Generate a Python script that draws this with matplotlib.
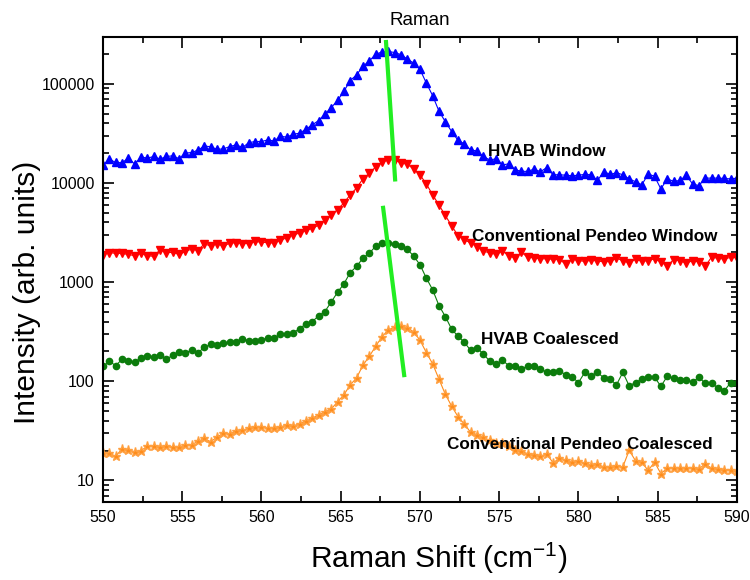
import numpy as np
import matplotlib
matplotlib.use("Agg")
import matplotlib.pyplot as plt
from matplotlib.ticker import MultipleLocator, LogLocator, FixedLocator, FixedFormatter

plt.rcParams['font.family'] = ['Liberation Sans', 'DejaVu Sans']
plt.rcParams['mathtext.fontset'] = 'custom'
plt.rcParams['mathtext.rm'] = 'Liberation Sans'
plt.rcParams['mathtext.it'] = 'Liberation Sans:italic'

# raman shift grid (cm-1)
shift = np.linspace(550, 590, 101)

hvab_window = [
    15200, 17400, 16100, 16000, 17800, 15500, 18300, 17800, 18500, 17400,
    18500, 18800, 17600, 20000, 20300, 21500, 23600, 23200, 21800, 22100,
    23300, 24300, 22800, 25500, 26200, 26200, 27200, 26500, 29600, 29000,
    31000, 31800, 34800, 38600, 42500, 49500, 57500, 68000, 84000, 108000,
    123000, 150000, 170000, 198000, 210000, 212000, 207000, 197000, 178000, 162000,
    140000, 102000, 76000, 53000, 41500, 33000, 27000, 24800, 21600, 21000,
    18500, 17100, 17500, 15200, 15600, 13600, 13100, 13100, 13800, 13000,
    14300, 12100, 12100, 12000, 11800, 12000, 12200, 12100, 10600, 13000,
    12200, 12700, 12100, 11000, 10300, 9600, 12300, 11700, 8700, 11000,
    10400, 10600, 11900, 9800, 9400, 11200, 11200, 11200, 11100, 11000,
    11200]

conv_window = [
    1890, 1990, 1950, 1950, 1900, 1850, 1950, 1850, 1820, 2120,
    1980, 2000, 1900, 2040, 2160, 2080, 2450, 2300, 2450, 2300,
    2480, 2500, 2450, 2450, 2570, 2530, 2500, 2480, 2650, 2800,
    3000, 3120, 3320, 3480, 3750, 4200, 4700, 5400, 6300, 7600,
    8900, 11000, 12500, 14500, 16200, 17100, 17100, 16000, 15400, 13900,
    12100, 9800, 7600, 6000, 4700, 3700, 2950, 2680, 2480, 2280,
    2050, 1980, 1900, 2060, 1850, 1750, 2000, 1780, 1760, 1720,
    1720, 1700, 1690, 1520, 1710, 1650, 1620, 1660, 1640, 1600,
    1620, 1740, 1650, 1560, 1700, 1620, 1650, 1720, 1600, 1450,
    1690, 1640, 1560, 1640, 1600, 1450, 1790, 1740, 1710, 1780,
    1760]

hvab_coal = [
    141, 159, 144, 166, 159, 156, 172, 178, 176, 182,
    168, 182, 196, 195, 205, 195, 220, 235, 230, 245,
    247, 250, 270, 255, 252, 262, 273, 273, 297, 302,
    310, 337, 381, 400, 455, 505, 630, 790, 960, 1250,
    1440, 1750, 1950, 2300, 2460, 2480, 2440, 2320, 2150, 1830,
    1500, 1100, 837, 580, 450, 335, 285, 247, 205, 217,
    188, 160, 148, 163, 144, 141, 132, 144, 144, 132,
    124, 123, 128, 116, 111, 97, 123, 114, 123, 108,
    105, 92, 123, 90, 97, 105, 110, 110, 89, 112,
    108, 102, 104, 98, 110, 95, 97, 85, 80, 97,
    97]

conv_coal = [
    18.9, 18.8, 17.5, 20.8, 20.3, 19.5, 20.0, 22.1, 22.1, 21.8,
    22.1, 21.5, 21.5, 23.0, 23.0, 24.8, 26.5, 24.5, 27.5, 29.8,
    29.5, 31.3, 32.0, 33.5, 34.2, 34.8, 34.0, 34.0, 34.5, 36.5,
    35.5, 37.2, 39.5, 42.6, 45.5, 49.0, 52.5, 62.0, 73.0, 92.0,
    108, 145, 178, 225, 280, 331, 350, 362, 348, 315,
    260, 195, 150, 105, 74, 56, 44, 37, 30.5, 29,
    27.2, 25.3, 23.8, 23.6, 22.5, 20.5, 19.6, 18.6, 18.2, 17.5,
    18.6, 15.0, 16.8, 16.1, 15.3, 15.6, 15.0, 14.2, 14.5, 13.7,
    13.8, 13.9, 13.7, 20.1, 15.8, 15.2, 12.6, 15.3, 11.7, 13.3,
    13.3, 13.3, 13.3, 13.3, 13.0, 14.8, 13.2, 12.9, 12.8, 12.6,
    12.5]

# peak-shift guide lines (x, y)
guide1_x = [567.85, 568.44]
guide1_y = [277000, 10350]
guide2_x = [567.66, 569.02]
guide2_y = [5890, 110]

labels = ["HVAB Window", "Conventional Pendeo Window", "HVAB Coalesced",
          "Conventional Pendeo Coalesced"]
label_x = [578.0, 581.0, 578.2, 580.1]
label_y = [20650, 2870, 262, 23.0]

yticks = [10, 100, 1000, 10000, 100000]
ytick_labels = ["10", "100", "1000", "10000", "100000"]

fig = plt.figure(figsize=(7.5, 5.8), dpi=100)
ax = fig.add_axes([0.1373, 0.135, 0.8453, 0.802])

ax.plot(shift, hvab_window, '-^', color='#0000ff', lw=0.8, ms=5.7, mec='#0000ff')
ax.plot(shift, conv_window, '-v', color='#ff0000', lw=0.8, ms=5.7, mec='#ff0000')
ax.plot(shift, hvab_coal, '-o', color='#0c7c0c', lw=0.8, ms=4.5, mec='#0c7c0c')
ax.plot(shift, conv_coal, '-*', color='#ff8c1a', lw=0.8, ms=6.5, mec='#ffa040')

ax.plot(guide1_x, guide1_y, color='#22ee22', lw=3, solid_capstyle='butt')
ax.plot(guide2_x, guide2_y, color='#22ee22', lw=3, solid_capstyle='butt')

for t, lx, ly in zip(labels, label_x, label_y):
    ax.text(lx, ly, t, ha='center', va='center', fontsize=12.3, fontweight='bold')

ax.set_yscale('log')
ax.set_xlim(550, 590)
ax.set_ylim(6.1, 3.0e5)

ax.xaxis.set_major_locator(MultipleLocator(5))
ax.xaxis.set_minor_locator(MultipleLocator(2.5))
ax.yaxis.set_major_locator(FixedLocator(yticks))
ax.yaxis.set_major_formatter(FixedFormatter(ytick_labels))
ax.yaxis.set_minor_locator(LogLocator(base=10, subs=np.arange(2, 10)))
ax.yaxis.set_minor_formatter(FixedFormatter([]))

ax.tick_params(which='both', direction='in', top=True, right=True, width=1.2)
ax.tick_params(which='major', length=8, labelsize=11.5, pad=6)
ax.tick_params(which='minor', length=4.5)
for s in ax.spines.values():
    s.set_linewidth(1.5)

ax.set_title("Raman", fontsize=13.5, pad=8)
ax.set_xlabel("Raman Shift (cm$^{-1}$)", fontsize=21.5)
ax.set_ylabel("Intensity (arb. units)", fontsize=21.5)
ax.xaxis.set_label_coords(0.53, -0.085)
ax.yaxis.set_label_coords(-0.097, 0.45)

fig.savefig("out.png", dpi=100)
